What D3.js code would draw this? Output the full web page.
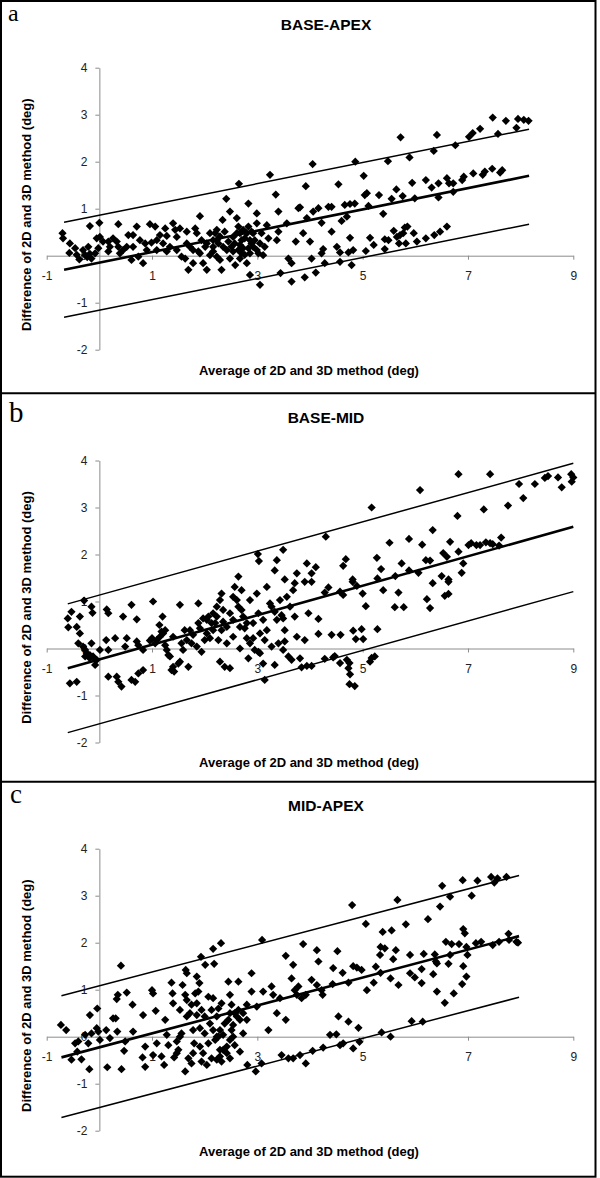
<!DOCTYPE html>
<html>
<head>
<meta charset="utf-8">
<script src="https://cdn.jsdelivr.net/npm/d3@7"></script>
<style>
  body { margin: 0; background: #fff; }
  text { font-family: "Liberation Sans", Arial, sans-serif; }
</style>
</head>
<body>
<svg id="fig" width="600" height="1178"></svg>
<script>
const panelLetters = ["a", "b", "c"];
const titles = ["BASE-APEX", "BASE-MID", "MID-APEX"];
const xTicks = [-1, 1, 3, 5, 7, 9];
const yTicks = [-2, -1, 0, 1, 2, 3, 4];
const xLabel = "Average of 2D and 3D method (deg)";
const yLabel = "Difference of 2D and 3D method (deg)";

// fitted line and limits, value at the two ends of each line
const lineXA = [-0.67, 8.16], meanA = [-0.30, 1.70], upperA = [0.71, 2.69], lowerA = [-1.31, 0.67];
const lineXB = [-0.60, 9.00], meanB = [-0.42, 2.59], upperB = [0.95, 3.94], lowerB = [-1.79, 1.21];
const lineXC = [-0.72, 7.97], meanC = [-0.44, 2.14], upperC = [0.87, 3.43], lowerC = [-1.72, 0.84];

// [average, difference]
const pointsA = [
  [-0.70,0.48],[-0.69,0.37],[-0.56,0.26],[-0.57,0.06],[-0.46,0.16],[-0.38,-0.08],[-0.31,0.12],[-0.27,0.01],
  [-0.23,-0.03],[-0.18,0.04],[-0.15,-0.06],[-0.08,0.05],[-0.02,0.16],[-0.05,0.37],[-0.18,0.63],[0.00,0.70],
  [0.17,0.30],[0.20,0.19],[0.17,0.09],[0.26,0.37],[0.33,0.30],[0.36,0.19],[0.39,0.05],[0.36,0.67],[0.52,0.19],
  [0.55,0.44],[0.61,-0.09],[0.64,0.19],[0.71,0.62],[0.74,-0.02],[0.83,-0.16],[0.87,0.26],[0.96,0.67],[0.99,0.28],
  [1.06,0.62],[1.15,0.44],[1.21,0.26],[1.25,0.58],[1.28,0.42],[1.40,0.69],[1.44,0.55],[1.47,0.40],[1.53,0.58],
  [1.56,-0.02],[1.63,-0.06],[1.66,0.51],[1.69,-0.30],[1.82,0.58],[1.85,0.48],[1.78,-0.16],[1.88,0.09],[1.91,0.84],
  [1.94,0.33],[1.97,-0.16],[2.04,-0.30],[2.10,0.01],[2.16,0.19],[2.20,0.48],[2.23,0.55],[2.29,-0.09],[2.32,-0.30],
  [2.34,0.76],[2.42,0.12],[2.48,0.94],[2.54,0.40],[2.58,-0.20],[2.61,0.80],[2.64,0.62],[2.67,0.23],[2.73,0.16],
  [2.76,0.37],[2.83,0.62],[2.83,1.11],[2.89,0.26],[2.92,0.19],[2.99,0.90],[2.99,0.69],[3.02,0.05],[3.05,-0.62],
  [3.11,0.01],[3.18,0.65],[3.21,0.37],[3.37,0.33],[3.40,0.51],[3.40,0.94],[3.56,0.69],[3.59,-0.06],[3.65,-0.16],
  [3.65,-0.55],[3.73,0.30],[3.78,1.01],[2.80,-0.16],[2.54,0.09],[2.86,-0.41],[3.44,-0.37],[2.16,0.33],[2.26,0.26],
  [2.67,0.48],[2.80,0.48],[2.92,0.48],[2.70,0.05],[2.86,0.05],[2.01,0.19],[1.72,0.19],[1.28,0.09],[1.09,0.12],
  [2.04,0.26],[2.10,0.48],[2.16,0.09],[2.23,0.33],[2.29,0.41],[2.35,0.19],[2.38,0.51],[2.45,0.30],[2.51,0.19],
  [2.57,0.26],[2.61,0.48],[2.64,0.12],[2.70,0.33],[2.73,0.55],[2.76,0.02],[2.83,0.16],[2.86,0.33],[2.89,0.51],
  [2.95,0.33],[2.99,0.12],[3.05,0.26],[3.08,0.48],[3.14,0.19],[2.67,-0.06],[2.48,-0.06],[2.23,-0.02],[1.91,0.05],
  [1.78,0.12],[1.66,0.26],[1.47,0.12],[1.34,0.19],[1.09,0.33],[0.90,0.12],[0.77,0.33],[0.64,0.44],[0.45,0.12],
  [0.07,0.30],[0.01,0.40],[-0.21,0.19],[-0.43,0.02],
  [2.41,1.21],[2.65,1.53],[3.24,1.72],[3.35,1.30],
  [7.47,2.94],[7.72,2.87],[7.95,2.91],[8.06,2.89],[8.15,2.87],[7.92,2.72],[7.57,2.59],[7.23,2.70],[7.09,2.61],
  [7.02,2.53],[6.41,2.57],[5.72,2.52],[6.76,2.35],[6.35,2.23],[5.89,2.09],[5.48,2.01],[4.86,2.00],[4.05,1.95],
  [5.02,1.70],[3.92,1.48],[4.54,1.52],[5.08,1.33],[5.31,1.29],[5.64,1.41],[5.94,1.55],[6.20,1.61],[6.31,1.45],
  [6.44,1.54],[6.60,1.65],[6.64,1.54],[6.72,1.54],[6.89,1.61],[6.92,1.68],[7.10,1.75],[7.28,1.72],[7.32,1.79],
  [7.46,1.85],[7.61,1.77],[7.65,1.82],[6.44,1.24],[5.99,1.22],[5.55,1.21],[5.04,1.29],[5.76,1.27],[6.72,1.36],
  [4.06,0.94],[4.16,1.01],[4.35,1.04],[4.41,1.04],[4.66,1.08],[4.76,1.10],[4.85,1.11],[5.11,1.06],[5.39,0.89],
  [3.94,0.80],[4.22,0.70],[3.87,0.48],[4.00,0.30],[4.41,0.51],[4.76,0.38],[5.14,0.38],[5.21,0.23],[5.42,0.35],
  [5.49,0.33],[5.59,0.53],[5.65,0.40],[5.71,0.44],[5.77,0.48],[5.80,0.60],[5.85,0.62],[5.69,0.26],[5.82,0.26],
  [5.97,0.48],[6.03,0.30],[6.20,0.37],[6.36,0.44],[6.47,0.51],[6.60,0.62],[4.51,0.19],[4.57,0.07],[4.73,0.07],
  [4.82,0.12],[5.06,0.10],[5.42,0.14],[4.03,-0.06],[4.28,-0.16],[4.57,-0.13],[4.79,-0.20],[4.22,0.05],[4.25,0.14],
  [3.90,-0.46],[4.11,-0.36],[4.60,0.74],[4.70,0.83],[3.81,1.03]
];

const pointsB = [
  [3.01,2.01],[3.03,1.86],[2.64,1.53],[3.37,1.88],[3.49,2.10],[3.33,1.66],[3.52,1.47],[3.75,1.60],
  [6.82,3.71],[7.42,3.71],[6.09,3.37],[5.17,3.00],[4.30,2.38],[6.80,2.82],[7.30,2.96],[7.76,3.04],[7.97,3.50],
  [8.05,3.20],[8.27,3.50],[8.46,3.63],[8.52,3.67],[8.71,3.64],[8.78,3.43],[8.96,3.71],[9.00,3.64],[8.97,3.55],
  [6.33,2.52],[5.88,2.33],[5.51,2.25],[6.13,2.21],[6.66,2.27],[7.01,2.20],[7.06,2.24],[7.16,2.20],[7.23,2.20],
  [7.34,2.26],[7.42,2.24],[7.47,2.22],[7.63,2.36],[7.59,2.19],[6.53,2.03],[6.60,1.95],[6.82,2.06],[6.20,1.88],
  [6.28,1.87],[5.74,1.81],[5.27,1.93],[5.35,1.69],[4.63,1.76],[4.68,1.90],[3.94,1.81],[4.03,1.60],[4.11,1.73],
  [6.91,1.81],[6.88,1.61],[6.50,1.54],[5.62,1.54],[5.88,1.66],[6.06,1.61],[4.81,1.47],[5.28,1.49],[6.63,1.47],
  [3.90,1.42],[4.03,1.42],[4.35,1.30],[4.28,1.19],[4.57,1.21],[4.63,1.14],[4.81,1.42],[4.89,1.33],[5.00,1.17],
  [5.39,1.24],[5.68,1.19],[5.61,0.88],[5.78,0.88],[5.06,0.90],[6.22,1.05],[6.28,0.86],[6.33,1.39],[6.56,1.12],
  [6.63,1.16],[6.63,1.42],[3.97,0.75],[4.16,0.63],[3.90,0.18],[4.16,0.31],[4.41,0.29],[4.58,0.29],[4.82,0.38],
  [4.98,0.41],[4.87,0.20],[5.01,0.20],[5.28,0.41],[3.81,-0.21],[3.84,-0.40],[3.94,-0.37],[4.03,-0.37],[4.28,-0.22],
  [4.44,-0.19],[4.47,-0.16],[4.57,-0.31],[4.70,-0.24],[4.75,-0.31],[4.73,-0.42],[4.76,-0.55],[4.75,-0.76],
  [4.85,-0.80],[5.14,-0.28],[5.17,-0.20],[5.23,-0.17],
  [-0.60,0.64],[-0.53,0.78],[-0.37,0.68],[-0.59,0.45],[-0.43,0.46],[-0.37,0.32],[-0.40,0.11],[-0.31,0.04],
  [-0.27,-0.03],[-0.24,-0.10],[-0.18,-0.14],[-0.15,0.11],[-0.12,-0.17],[-0.08,-0.35],[-0.05,-0.24],[-0.18,-0.21],
  [-0.27,-0.17],[-0.15,0.89],[-0.13,0.76],[-0.29,1.02],[-0.56,-0.74],[-0.43,-0.71],[0.01,-0.03],[0.13,0.18],
  [0.17,-0.03],[0.30,0.22],[0.17,-0.60],[0.33,-0.60],[0.36,-0.71],[0.42,-0.81],[0.14,0.83],[0.17,0.75],[0.45,0.68],
  [0.61,0.93],[0.71,0.62],[0.52,0.22],[0.49,0.04],[0.61,-0.67],[0.68,-0.71],[0.74,-0.53],[0.83,-0.46],[0.71,0.15],
  [0.74,0.07],[0.83,-0.03],[0.96,0.17],[1.02,1.00],[1.06,0.11],[1.09,0.18],[1.15,0.25],[1.20,0.68],[1.14,0.50],
  [1.18,0.36],[1.21,0.32],[1.25,0.07],[1.28,-0.03],[1.31,-0.14],[1.34,-0.17],[1.25,0.39],[1.40,-0.39],[1.37,-0.46],
  [1.42,-0.49],[1.50,-0.32],[1.53,-0.28],[1.56,0.11],[1.59,-0.03],[1.62,0.39],[1.53,0.93],[1.69,-0.39],[1.66,0.18],
  [1.75,0.11],[1.78,0.29],[1.85,0.04],[1.88,0.54],[1.88,0.96],[1.91,0.43],[1.94,-0.07],[1.97,0.64],[2.00,0.18],
  [2.04,0.61],[2.07,0.68],[2.10,0.22],[2.13,0.54],[2.16,0.75],[2.20,0.54],[2.23,0.89],[2.26,0.18],[2.29,-0.28],
  [2.32,0.39],[2.29,1.03],[2.32,1.17],[2.35,0.57],[2.42,0.11],[2.38,-0.39],[2.48,-0.42],[2.48,0.75],[2.54,1.10],
  [2.57,1.31],[2.61,1.03],[2.64,0.89],[2.67,0.00],[2.70,1.24],[2.73,0.68],[2.76,0.43],[2.80,0.54],[2.83,-0.21],
  [2.80,0.22],[2.86,0.11],[2.92,0.22],[2.95,-0.03],[2.99,1.17],[3.02,0.75],[3.02,-0.07],[3.05,-0.10],[3.11,-0.32],
  [3.14,0.18],[3.14,-0.67],[3.18,1.31],[3.24,0.96],[3.27,0.89],[3.27,0.04],[3.33,0.78],[3.33,-0.35],[3.37,0.61],
  [3.40,0.11],[3.43,1.03],[3.46,0.71],[3.49,0.64],[3.49,-0.03],[3.52,0.39],[3.52,0.15],[3.56,1.10],[3.59,-0.17],
  [3.62,0.89],[3.65,-0.24],[3.68,1.24],[3.71,0.68],[3.71,1.39],[3.75,0.25],
  [2.04,0.32],[2.16,0.39],[2.23,0.68],[2.35,0.82],[2.42,0.46],[2.54,0.61],[2.67,0.46],[2.70,0.82],[2.86,1.03],
  [2.92,0.54],[3.11,0.61],[3.18,0.39],[3.05,0.32],[2.54,0.25],[1.72,0.39],[1.40,0.25],[1.00,0.22]
];

const pointsC = [
  [0.41,1.51],[1.64,1.42],[1.93,1.70],[2.01,1.53],[2.16,1.87],[2.18,1.55],[2.31,1.99],[3.09,2.06],[3.54,1.72],
  [3.68,1.53],
  [4.80,2.80],[5.66,2.91],[5.06,2.40],[5.38,2.23],[5.55,2.26],[5.82,2.39],[6.24,2.50],[6.47,2.77],[6.51,3.21],
  [6.66,2.98],[6.90,3.33],[7.07,3.00],[7.18,3.32],[7.44,3.40],[7.50,3.28],[7.56,3.37],[7.73,3.40],[6.91,2.29],
  [6.94,2.20],[3.87,1.97],[4.13,1.84],[4.16,1.60],[4.52,1.82],[5.34,1.91],[5.42,1.88],[5.33,1.74],[5.63,1.84],
  [5.58,1.65],[5.90,1.74],[6.16,1.76],[6.37,1.75],[6.39,1.60],[6.58,2.02],[6.69,1.97],[6.83,1.97],[6.97,1.91],
  [6.99,1.74],[7.15,1.99],[7.25,2.02],[7.47,1.95],[7.59,2.02],[7.77,2.19],[7.78,2.06],[7.92,2.02],[7.95,2.00],
  [6.66,1.74],[6.41,1.56],[6.63,1.55],[6.91,1.50],[6.12,1.44],[4.82,1.50],[4.89,1.47],[5.25,1.49],[4.44,1.46],
  [4.03,1.21],[4.13,1.10],[4.22,0.99],[4.24,0.89],[4.43,1.12],[4.62,1.36],[4.73,1.15],[4.98,1.42],[5.08,0.99],
  [5.21,1.15],[5.34,1.36],[5.53,1.24],[5.68,1.10],[5.90,1.35],[5.99,1.26],[6.12,1.14],[6.34,1.33],[6.41,0.96],
  [6.56,0.72],[6.73,0.92],[6.89,1.12],[6.97,1.28],[3.92,0.89],[3.84,0.82],[4.54,0.43],[4.73,0.32],[4.92,0.19],
  [4.38,0.04],[4.50,0.05],[5.36,0.09],[5.53,0.00],[5.93,0.33],[6.14,0.32],[4.57,-0.18],[4.63,-0.14],[4.82,-0.25],
  [4.94,-0.11],[4.05,-0.30],[4.25,-0.23],[3.92,-0.57],[3.81,-0.39],
  [-0.73,0.25],[-0.63,0.14],[-0.53,-0.49],[-0.46,-0.14],[-0.40,-0.10],[-0.34,-0.48],[-0.42,-0.32],[-0.19,-0.69],
  [-0.27,0.04],[-0.21,-0.14],[-0.15,0.07],[-0.18,0.46],[-0.04,0.60],[-0.05,0.18],[-0.02,0.11],[0.01,-0.07],
  [0.13,0.14],[0.15,-0.65],[0.20,-0.03],[0.26,0.39],[0.31,0.39],[0.34,0.11],[0.35,0.89],[0.33,0.80],[0.42,-0.69],
  [0.47,-0.30],[0.49,-0.10],[0.52,0.94],[0.63,0.68],[0.64,0.11],[0.83,0.46],[0.87,-0.21],[0.87,-0.64],[0.82,-0.44],
  [1.00,0.99],[1.02,0.92],[1.02,-0.39],[1.07,0.55],[1.23,-0.60],[1.25,0.36],[1.28,0.04],[1.31,-0.18],[1.37,1.15],
  [1.39,0.92],[1.40,0.71],[1.42,-0.44],[1.47,-0.10],[1.50,-0.28],[1.53,0.57],[1.56,0.07],[1.58,1.10],[1.63,0.89],
  [1.63,-0.74],[1.66,1.35],[1.66,0.43],[1.69,-0.46],[1.72,0.50],[1.75,-0.57],[1.78,0.14],[1.80,-0.14],[1.82,0.92],
  [1.85,1.28],[1.85,0.46],[1.88,0.96],[1.90,1.14],[1.91,0.18],[1.94,-0.53],[1.97,-0.35],[2.00,0.07],[2.04,-0.60],
  [2.07,0.85],[2.10,0.28],[2.13,-0.46],[2.16,0.82],[2.20,-0.07],[2.23,0.43],[2.26,0.60],[2.29,-0.28],[2.32,-0.53],
  [2.32,0.71],[2.35,0.04],[2.38,0.28],[2.42,-0.21],[2.45,1.17],[2.48,-0.46],[2.48,0.89],[2.51,0.68],[2.54,0.25],
  [2.57,-0.18],[2.61,0.43],[2.64,1.17],[2.64,0.57],[2.67,-0.32],[2.73,0.07],[2.80,0.68],[2.81,-0.60],[2.89,1.35],
  [2.89,0.96],[2.97,-0.74],[2.99,0.64],[3.08,-0.57],[3.11,0.96],[3.21,0.14],[3.27,1.07],[3.30,0.89],[3.37,0.50],
  [3.43,0.82],[3.46,-0.39],[3.54,0.36],[3.59,-0.46],[3.65,1.24],[3.68,-0.46],[3.71,0.99],[3.75,0.89],[3.78,1.07],
  [2.23,0.00],[2.29,0.14],[2.45,0.36],[2.54,0.00],[2.48,0.50],
  [1.66,0.78],[1.75,0.68],[1.85,0.71],[1.94,0.57],[2.00,0.43],[2.13,0.57],[2.16,0.14],[2.26,-0.00],[2.29,-0.42],
  [2.35,-0.28],[2.42,-0.35],[2.48,-0.07],[2.51,0.14],[2.57,0.50],[2.67,0.36],[2.73,0.50],[2.80,0.36],[1.53,-0.00],
  [1.47,-0.35],[1.78,-0.35],[1.91,-0.21],[2.07,-0.14],[2.23,-0.49],[1.09,-0.14],[1.18,-0.42]
];

const panels = [
  { letter: panelLetters[0], title: titles[0], pts: pointsA, lx: lineXA, mean: meanA, up: upperA, lo: lowerA },
  { letter: panelLetters[1], title: titles[1], pts: pointsB, lx: lineXB, mean: meanB, up: upperB, lo: lowerB },
  { letter: panelLetters[2], title: titles[2], pts: pointsC, lx: lineXC, mean: meanC, up: upperC, lo: lowerC }
];

// layout: zero line of each panel, and panel letter placement
const zeroY = [255.7, 648.5, 1036.7];
const letterPos = [[8, 21, 24], [9, 421.5, 29], [10, 803, 27]];
const dividers = [393.3, 781.7];

const svg = d3.select("#fig");
svg.append("rect").attr("width", 600).attr("height", 1178).attr("fill", "#fff");

const x = d3.scaleLinear().domain([-1, 9]).range([46.7, 573.3]);
const diamond = d3.symbol().type(d3.symbolSquare).size(34);

panels.forEach((p, i) => {
  const y0 = zeroY[i];
  const y = d3.scaleLinear().domain([-2, 4]).range([y0 + 94, y0 - 188]);
  const g = svg.append("g");

  // x axis through zero
  const xAxis = g.append("g").attr("transform", `translate(0,${y0})`)
    .call(d3.axisBottom(x).tickValues(xTicks).tickFormat(d => String(d))
      .tickSize(4).tickSizeOuter(0).tickPadding(12));
  // y axis at zero
  const yAxis = g.append("g").attr("transform", `translate(${x(0)},0)`)
    .call(d3.axisLeft(y).tickValues(yTicks).tickFormat(d => String(d))
      .tickSize(4).tickSizeOuter(0).tickPadding(8));
  [xAxis, yAxis].forEach(a => {
    a.select(".domain").attr("stroke", "#8c8c8c");
    a.selectAll(".tick line").attr("stroke", "#8c8c8c");
    a.selectAll(".tick text").attr("fill", "#222").style("font-size", "12px")
      .style("font-family", "'Liberation Sans', Arial, sans-serif");
  });

  // points
  g.append("g").selectAll("path").data(p.pts).join("path")
    .attr("d", diamond)
    .attr("transform", d => `translate(${x(d[0])},${y(d[1])}) rotate(45)`)
    .attr("fill", "#000");

  // limits and fitted line
  const seg = vals => d3.line().x((d, k) => x(p.lx[k])).y(d => y(d))(vals);
  g.append("path").attr("d", seg(p.up)).attr("stroke", "#000").attr("stroke-width", 1.5).attr("fill", "none");
  g.append("path").attr("d", seg(p.lo)).attr("stroke", "#000").attr("stroke-width", 1.5).attr("fill", "none");
  g.append("path").attr("d", seg(p.mean)).attr("stroke", "#000").attr("stroke-width", 2.6).attr("fill", "none");

  // texts
  g.append("text").attr("x", 326).attr("y", y0 - 226).attr("text-anchor", "middle")
    .attr("font-weight", "bold").attr("font-size", 15.5).text(p.title);
  g.append("text").attr("x", 309).attr("y", y0 + 118.8).attr("text-anchor", "middle")
    .attr("font-weight", "bold").attr("font-size", 13).text(xLabel);
  g.append("text").attr("transform", `translate(30.8,${y0 - 41}) rotate(-90)`).attr("text-anchor", "middle")
    .attr("font-weight", "bold").attr("font-size", 13).text(yLabel);
  const lp = letterPos[i];
  g.append("text").attr("x", lp[0]).attr("y", lp[1]).attr("font-size", lp[2])
    .style("font-family", "'Liberation Serif', 'Times New Roman', serif").text(p.letter);
});

// frame and dividers
svg.append("rect").attr("x", 1).attr("y", 1).attr("width", 594.5).attr("height", 1175.7)
  .attr("fill", "none").attr("stroke", "#000").attr("stroke-width", 2);
dividers.forEach(d => svg.append("line").attr("x1", 1).attr("x2", 595.5).attr("y1", d).attr("y2", d)
  .attr("stroke", "#000").attr("stroke-width", 2));
</script>
</body>
</html>
